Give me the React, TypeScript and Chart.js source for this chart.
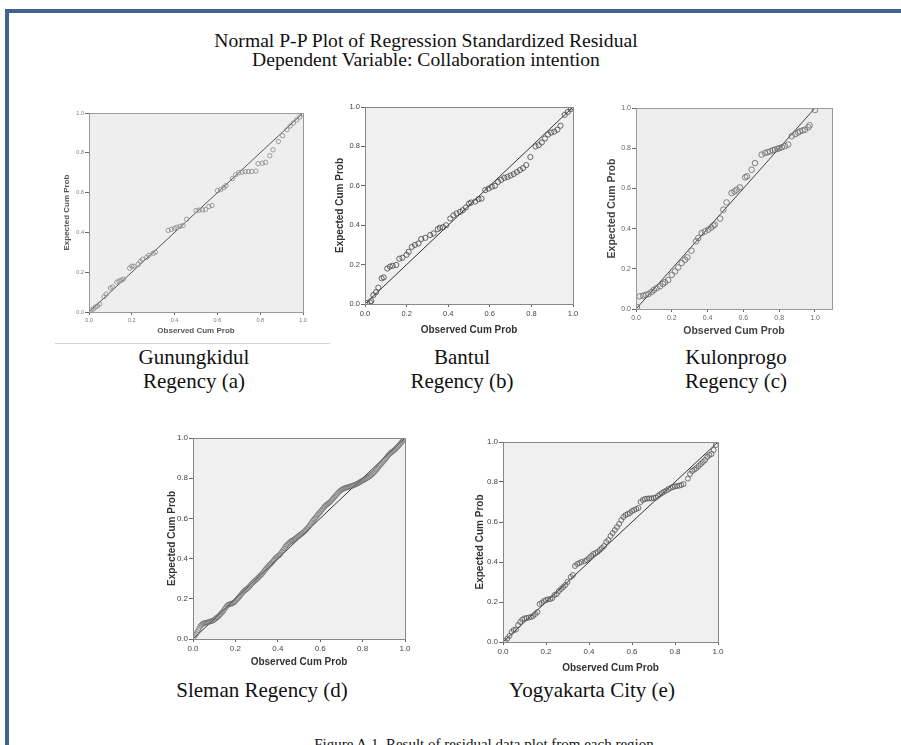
import React, { useEffect, useRef } from 'react';
import { Chart, registerables } from 'chart.js';

Chart.register(...registerables);

// ---------- shared axis data ----------
const tickValues = [0, 0.2, 0.4, 0.6, 0.8, 1.0];
const tickLabels = ['0.0', '0.2', '0.4', '0.6', '0.8', '1.0'];
const xAxisTitle = 'Observed Cum Prob';
const yAxisTitle = 'Expected Cum Prob';
const diagonalLine = [[0, 0], [1, 1]];

const titleLines = [
  'Normal P-P Plot of Regression Standardized Residual',
  'Dependent Variable: Collaboration intention',
];
const panelCaptions = [
  ['Gunungkidul', 'Regency (a)'],
  ['Bantul', 'Regency (b)'],
  ['Kulonprogo', 'Regency (c)'],
  ['Sleman Regency (d)'],
  ['Yogyakarta City (e)'],
];
const figureCaption = 'Figure A.1. Result of residual data plot from each region';

// ---------- series: [observed cum prob, expected cum prob] ----------
const gunungkidulPoints = [
  [0.01, 0.01], [0.02, 0.015], [0.03, 0.025], [0.04, 0.03], [0.05, 0.04],
  [0.07, 0.077], [0.08, 0.09], [0.1, 0.12], [0.11, 0.125], [0.13, 0.15],
  [0.14, 0.155], [0.15, 0.16], [0.16, 0.165], [0.19, 0.22], [0.2, 0.23],
  [0.21, 0.23], [0.23, 0.24], [0.24, 0.255], [0.25, 0.265], [0.27, 0.275],
  [0.28, 0.285], [0.3, 0.295], [0.31, 0.3], [0.37, 0.41], [0.385, 0.415],
  [0.4, 0.42], [0.41, 0.425], [0.425, 0.43], [0.44, 0.435], [0.456, 0.466],
  [0.5, 0.51], [0.515, 0.512], [0.53, 0.513], [0.545, 0.515], [0.56, 0.53],
  [0.575, 0.535], [0.6, 0.61], [0.615, 0.615], [0.63, 0.625], [0.64, 0.635],
  [0.67, 0.67], [0.685, 0.69], [0.7, 0.7], [0.715, 0.703], [0.73, 0.705],
  [0.745, 0.706], [0.76, 0.706], [0.78, 0.708], [0.79, 0.745], [0.81, 0.748],
  [0.825, 0.752], [0.845, 0.785], [0.86, 0.815], [0.885, 0.857], [0.905, 0.886],
  [0.925, 0.916], [0.94, 0.935], [0.955, 0.95], [0.97, 0.965], [0.985, 0.98],
  [1.0, 0.995],
];

const bantulPoints = [
  [0.01, 0.005], [0.024, 0.008], [0.03, 0.015], [0.04, 0.045], [0.053, 0.06],
  [0.064, 0.083], [0.08, 0.13], [0.09, 0.135], [0.107, 0.18], [0.12, 0.19],
  [0.133, 0.194], [0.15, 0.198], [0.165, 0.23], [0.18, 0.235], [0.2, 0.25],
  [0.21, 0.265], [0.225, 0.29], [0.24, 0.3], [0.257, 0.307], [0.27, 0.33],
  [0.29, 0.336], [0.313, 0.35], [0.33, 0.358], [0.35, 0.38], [0.36, 0.387],
  [0.375, 0.39], [0.39, 0.4], [0.41, 0.434], [0.425, 0.45], [0.44, 0.46],
  [0.457, 0.468], [0.47, 0.476], [0.485, 0.49], [0.5, 0.51], [0.51, 0.515],
  [0.53, 0.52], [0.546, 0.532], [0.56, 0.535], [0.578, 0.578], [0.594, 0.586],
  [0.61, 0.595], [0.625, 0.6], [0.64, 0.62], [0.655, 0.63], [0.67, 0.64],
  [0.685, 0.645], [0.7, 0.652], [0.715, 0.66], [0.73, 0.67], [0.745, 0.68],
  [0.76, 0.69], [0.775, 0.705], [0.795, 0.746], [0.82, 0.8], [0.835, 0.806],
  [0.85, 0.82], [0.865, 0.84], [0.88, 0.86], [0.895, 0.87], [0.91, 0.875],
  [0.925, 0.885], [0.94, 0.905], [0.96, 0.96], [0.975, 0.975], [0.99, 0.99],
  [1.0, 1.0],
];

const kulonprogoPoints = [
  [0.005, 0.01], [0.02, 0.063], [0.04, 0.066], [0.055, 0.07], [0.07, 0.075],
  [0.087, 0.085], [0.1, 0.095], [0.115, 0.104], [0.134, 0.113], [0.15, 0.125],
  [0.162, 0.133], [0.18, 0.144], [0.2, 0.17], [0.218, 0.187], [0.236, 0.207],
  [0.255, 0.229], [0.274, 0.245], [0.287, 0.257], [0.31, 0.29], [0.335, 0.337],
  [0.348, 0.353], [0.367, 0.378], [0.385, 0.386], [0.404, 0.395], [0.42, 0.405],
  [0.432, 0.415], [0.44, 0.42], [0.47, 0.45], [0.488, 0.494], [0.506, 0.53],
  [0.534, 0.577], [0.55, 0.585], [0.562, 0.594], [0.58, 0.605], [0.61, 0.655],
  [0.62, 0.66], [0.646, 0.693], [0.665, 0.726], [0.702, 0.768], [0.72, 0.776],
  [0.735, 0.78], [0.75, 0.784], [0.765, 0.79], [0.776, 0.793], [0.79, 0.797],
  [0.8, 0.8], [0.815, 0.805], [0.832, 0.81], [0.85, 0.818], [0.87, 0.86],
  [0.89, 0.87], [0.905, 0.878], [0.916, 0.884], [0.93, 0.888], [0.944, 0.892],
  [0.963, 0.904], [0.97, 0.914], [1.0, 0.99],
];

const slemanPoints = [
  [0.005, 0.01], [0.01, 0.02], [0.015, 0.025], [0.02, 0.035], [0.025, 0.045], [0.03, 0.055],
  [0.035, 0.065], [0.04, 0.07], [0.045, 0.075], [0.05, 0.078], [0.055, 0.08], [0.06, 0.08],
  [0.065, 0.082], [0.07, 0.083], [0.075, 0.085], [0.08, 0.087], [0.085, 0.088], [0.09, 0.09],
  [0.095, 0.092], [0.1, 0.095], [0.105, 0.1], [0.11, 0.105], [0.115, 0.108], [0.12, 0.112],
  [0.125, 0.118], [0.13, 0.124], [0.135, 0.13], [0.14, 0.135], [0.145, 0.142], [0.15, 0.15],
  [0.155, 0.158], [0.16, 0.165], [0.165, 0.17], [0.17, 0.172], [0.175, 0.174], [0.18, 0.175],
  [0.185, 0.177], [0.19, 0.18], [0.195, 0.183], [0.2, 0.188], [0.205, 0.195], [0.21, 0.2],
  [0.215, 0.206], [0.22, 0.212], [0.225, 0.218], [0.23, 0.225], [0.235, 0.232], [0.24, 0.238],
  [0.245, 0.242], [0.25, 0.246], [0.255, 0.25], [0.26, 0.254], [0.265, 0.26], [0.27, 0.266],
  [0.275, 0.272], [0.28, 0.278], [0.285, 0.283], [0.29, 0.288], [0.295, 0.292], [0.3, 0.297],
  [0.305, 0.302], [0.31, 0.308], [0.315, 0.313], [0.32, 0.318], [0.325, 0.323], [0.33, 0.33],
  [0.335, 0.337], [0.34, 0.344], [0.345, 0.35], [0.35, 0.356], [0.355, 0.362], [0.36, 0.368],
  [0.365, 0.373], [0.37, 0.378], [0.375, 0.384], [0.38, 0.39], [0.385, 0.397], [0.39, 0.403],
  [0.395, 0.408], [0.4, 0.412], [0.405, 0.416], [0.41, 0.42], [0.415, 0.428], [0.42, 0.435],
  [0.425, 0.442], [0.43, 0.45], [0.435, 0.458], [0.44, 0.465], [0.445, 0.47], [0.45, 0.475],
  [0.455, 0.48], [0.46, 0.485], [0.465, 0.488], [0.47, 0.49], [0.475, 0.494], [0.48, 0.498],
  [0.485, 0.502], [0.49, 0.506], [0.495, 0.51], [0.5, 0.514], [0.505, 0.518], [0.51, 0.522],
  [0.515, 0.526], [0.52, 0.53], [0.525, 0.535], [0.53, 0.54], [0.535, 0.546], [0.54, 0.552],
  [0.545, 0.558], [0.55, 0.565], [0.555, 0.572], [0.56, 0.58], [0.565, 0.588], [0.57, 0.595],
  [0.575, 0.6], [0.58, 0.606], [0.585, 0.613], [0.59, 0.62], [0.595, 0.626], [0.6, 0.632],
  [0.605, 0.638], [0.61, 0.645], [0.615, 0.652], [0.62, 0.658], [0.625, 0.664], [0.63, 0.668],
  [0.635, 0.672], [0.64, 0.676], [0.645, 0.68], [0.65, 0.686], [0.655, 0.692], [0.66, 0.698],
  [0.665, 0.704], [0.67, 0.71], [0.675, 0.716], [0.68, 0.722], [0.685, 0.728], [0.69, 0.733],
  [0.695, 0.738], [0.7, 0.742], [0.705, 0.745], [0.71, 0.748], [0.715, 0.75], [0.72, 0.752],
  [0.725, 0.754], [0.73, 0.755], [0.735, 0.757], [0.74, 0.758], [0.745, 0.76], [0.75, 0.762],
  [0.755, 0.764], [0.76, 0.766], [0.765, 0.768], [0.77, 0.77], [0.775, 0.773], [0.78, 0.776],
  [0.785, 0.779], [0.79, 0.782], [0.795, 0.785], [0.8, 0.788], [0.805, 0.791], [0.81, 0.794],
  [0.815, 0.797], [0.82, 0.8], [0.825, 0.803], [0.83, 0.807], [0.835, 0.811], [0.84, 0.815],
  [0.845, 0.82], [0.85, 0.825], [0.855, 0.83], [0.86, 0.836], [0.865, 0.842], [0.87, 0.848],
  [0.875, 0.855], [0.88, 0.862], [0.885, 0.868], [0.89, 0.874], [0.895, 0.88], [0.9, 0.886],
  [0.905, 0.892], [0.91, 0.898], [0.915, 0.905], [0.92, 0.912], [0.925, 0.918], [0.93, 0.924],
  [0.935, 0.928], [0.94, 0.932], [0.945, 0.936], [0.95, 0.94], [0.955, 0.945], [0.96, 0.95],
  [0.965, 0.956], [0.97, 0.962], [0.975, 0.968], [0.98, 0.974], [0.985, 0.98], [0.99, 0.986],
  [0.995, 0.992], [1.0, 0.998],
];

const yogyakartaPoints = [
  [0.008, 0.005], [0.02, 0.017], [0.03, 0.03], [0.04, 0.05], [0.05, 0.06],
  [0.06, 0.062], [0.07, 0.085], [0.08, 0.1], [0.09, 0.112], [0.1, 0.118],
  [0.11, 0.12], [0.12, 0.122], [0.13, 0.125], [0.14, 0.13], [0.15, 0.14],
  [0.16, 0.15], [0.17, 0.19], [0.18, 0.195], [0.19, 0.205], [0.2, 0.21],
  [0.21, 0.213], [0.22, 0.215], [0.23, 0.22], [0.24, 0.235], [0.25, 0.24],
  [0.26, 0.255], [0.27, 0.265], [0.28, 0.275], [0.29, 0.285], [0.3, 0.3],
  [0.315, 0.325], [0.325, 0.335], [0.335, 0.38], [0.345, 0.39], [0.355, 0.395],
  [0.365, 0.4], [0.38, 0.405], [0.39, 0.41], [0.4, 0.42], [0.41, 0.43],
  [0.42, 0.44], [0.43, 0.445], [0.44, 0.45], [0.45, 0.46], [0.46, 0.47],
  [0.47, 0.48], [0.48, 0.5], [0.49, 0.51], [0.5, 0.53], [0.51, 0.545],
  [0.52, 0.56], [0.53, 0.575], [0.54, 0.59], [0.55, 0.61], [0.56, 0.625],
  [0.57, 0.635], [0.58, 0.64], [0.59, 0.645], [0.6, 0.655], [0.61, 0.66],
  [0.62, 0.665], [0.63, 0.67], [0.64, 0.7], [0.65, 0.71], [0.66, 0.715],
  [0.67, 0.717], [0.68, 0.718], [0.69, 0.718], [0.7, 0.72], [0.71, 0.722],
  [0.72, 0.73], [0.73, 0.738], [0.74, 0.745], [0.75, 0.752], [0.76, 0.758],
  [0.77, 0.765], [0.78, 0.77], [0.79, 0.775], [0.8, 0.778], [0.81, 0.78],
  [0.82, 0.782], [0.83, 0.785], [0.84, 0.79], [0.86, 0.817], [0.87, 0.84],
  [0.88, 0.855], [0.89, 0.862], [0.9, 0.87], [0.91, 0.88], [0.92, 0.89],
  [0.93, 0.9], [0.94, 0.91], [0.95, 0.925], [0.96, 0.935], [0.97, 0.94],
  [0.98, 0.96], [0.99, 0.985],
];

// ---------- panel layout / style ----------
type PanelSpec = {
  points: number[][];
  box: [number, number, number, number]; // left, top, right, bottom (page px)
  xMax: number;
  lw: number; pt: number; pr: number; xh: number;
  yTitleOff: number; xTitleOff: number;
  tickSize: number; tickColor: string;
  titleSize: number; titleColor: string;
  pointR: number; pointColor: string; pointWidth: number; lineColor: string;
  boxColor: string; bg: string;
};

const panels: PanelSpec[] = [
  { points: gunungkidulPoints, box: [89, 113, 303, 312], xMax: 1, lw: 30, pt: 8, pr: 12, xh: 26,
    yTitleOff: 8, xTitleOff: 7, tickSize: 5.5, tickColor: '#777', titleSize: 8, titleColor: '#555',
    pointR: 2.2, pointColor: '#888', pointWidth: 0.8, lineColor: '#555', boxColor: '#999', bg: '#eeeeee' },
  { points: bantulPoints, box: [365, 107, 573, 304], xMax: 1, lw: 36, pt: 8, pr: 12, xh: 34,
    yTitleOff: 11, xTitleOff: 8, tickSize: 7.5, tickColor: '#444', titleSize: 10, titleColor: '#333',
    pointR: 2.6, pointColor: '#444', pointWidth: 0.8, lineColor: '#333', boxColor: '#888', bg: '#f0f0f0' },
  { points: kulonprogoPoints, box: [636, 108, 832, 309], xMax: 1.095, lw: 32, pt: 8, pr: 10, xh: 30,
    yTitleOff: 8, xTitleOff: 8, tickSize: 7, tickColor: '#666', titleSize: 10.5, titleColor: '#444',
    pointR: 2.8, pointColor: '#666', pointWidth: 0.8, lineColor: '#444', boxColor: '#999', bg: '#ededed' },
  { points: slemanPoints, box: [193, 438, 405, 639], xMax: 1, lw: 30, pt: 8, pr: 10, xh: 32,
    yTitleOff: 9, xTitleOff: 9, tickSize: 8, tickColor: '#444', titleSize: 10, titleColor: '#333',
    pointR: 2.4, pointColor: '#6a6a6a', pointWidth: 0.6, lineColor: '#333', boxColor: '#888', bg: '#f0f0f0' },
  { points: yogyakartaPoints, box: [503, 442, 718, 642], xMax: 1, lw: 34, pt: 8, pr: 10, xh: 34,
    yTitleOff: 11, xTitleOff: 8, tickSize: 8, tickColor: '#444', titleSize: 10, titleColor: '#333',
    pointR: 2.5, pointColor: '#555', pointWidth: 0.8, lineColor: '#333', boxColor: '#888', bg: '#f0f0f0' },
];

const SANS = '"Liberation Sans", Arial, sans-serif';
const SERIF = '"Liberation Serif", "Times New Roman", serif';

function PPPanel({ spec }: { spec: PanelSpec }) {
  const ref = useRef<HTMLCanvasElement | null>(null);
  const [l, t, r, b] = spec.box;
  const w = r - l + spec.lw + spec.pr;
  const h = b - t + spec.pt + spec.xh;

  useEffect(() => {
    const canvas = ref.current;
    if (!canvas) return;
    const framePlugin = {
      id: 'frame',
      beforeDraw(chart: any) {
        const a = chart.chartArea;
        const ctx = chart.ctx;
        ctx.save();
        ctx.fillStyle = spec.bg;
        ctx.fillRect(a.left, a.top, a.right - a.left, a.bottom - a.top);
        ctx.restore();
      },
      afterDraw(chart: any) {
        const a = chart.chartArea;
        const ctx = chart.ctx;
        ctx.save();
        ctx.strokeStyle = spec.boxColor;
        ctx.lineWidth = 1;
        ctx.strokeRect(Math.round(a.left) + 0.5, Math.round(a.top) + 0.5,
          Math.round(a.right - a.left), Math.round(a.bottom - a.top));
        ctx.restore();
      },
    };
    const tickFont = { family: SANS, size: spec.tickSize };
    const titleFont = { family: SANS, size: spec.titleSize, weight: 'bold' as const };
    const setTicks = (scale: any) => {
      scale.ticks = tickValues.map((v) => ({ value: v }));
    };
    const chart = new Chart(canvas, {
      type: 'scatter',
      data: {
        datasets: [
          {
            type: 'line',
            data: diagonalLine.map(([x, y]) => ({ x, y })),
            borderColor: spec.lineColor,
            borderWidth: 1,
            pointRadius: 0,
            fill: false,
            order: 2,
          } as any,
          {
            data: spec.points.map(([x, y]) => ({ x, y })),
            pointStyle: 'circle',
            pointRadius: spec.pointR,
            borderColor: spec.pointColor,
            borderWidth: spec.pointWidth,
            backgroundColor: 'rgba(0,0,0,0)',
            order: 1,
          },
        ],
      },
      options: {
        animation: false,
        responsive: false,
        maintainAspectRatio: false,
        devicePixelRatio: 1,
        events: [],
        layout: { padding: { top: spec.pt, right: spec.pr, left: 0, bottom: 0 } },
        plugins: { legend: { display: false }, tooltip: { enabled: false }, title: { display: false } },
        scales: {
          x: {
            type: 'linear',
            min: 0,
            max: spec.xMax,
            afterBuildTicks: setTicks,
            afterFit: (s: any) => { s.height = spec.xh; },
            ticks: {
              callback: (_v: any, i: number) => tickLabels[i],
              font: tickFont,
              color: spec.tickColor,
              padding: 2,
              maxRotation: 0,
              autoSkip: false,
            },
            grid: { drawOnChartArea: false, drawTicks: true, tickLength: 3, color: '#666' },
            border: { display: false },
            title: {
              display: true,
              text: xAxisTitle,
              font: titleFont,
              color: spec.titleColor,
              padding: { top: 0, bottom: spec.xTitleOff - spec.titleSize * 0.6 },
            },
          },
          y: {
            type: 'linear',
            min: 0,
            max: 1,
            afterBuildTicks: setTicks,
            afterFit: (s: any) => { s.width = spec.lw; },
            ticks: {
              callback: (_v: any, i: number) => tickLabels[i],
              font: tickFont,
              color: spec.tickColor,
              padding: 1,
              autoSkip: false,
            },
            grid: { drawOnChartArea: false, drawTicks: true, tickLength: 4, color: '#666' },
            border: { display: false },
            title: {
              display: true,
              text: yAxisTitle,
              font: titleFont,
              color: spec.titleColor,
              padding: { top: spec.yTitleOff - spec.titleSize * 0.6, bottom: 0 },
            },
          },
        },
      },
      plugins: [framePlugin],
    } as any);
    return () => chart.destroy();
  }, [spec]);

  return (
    <canvas
      ref={ref}
      width={w}
      height={h}
      style={{ position: 'absolute', left: l - spec.lw, top: t - spec.pt, width: w, height: h }}
    />
  );
}

const captionCenters: [number, number][] = [[194, 357], [462, 357], [736, 357], [262, 690], [592, 690]];

export default function App() {
  return (
    <div style={{ position: 'absolute', left: 0, top: 0, width: 901, height: 745, overflow: 'hidden', background: '#fff' }}>
      <div style={{ position: 'absolute', left: 5, top: 9, width: 920, height: 760,
        borderTop: '4px solid #3d6491', borderLeft: '4px solid #3d6491' }} />
      <div style={{ position: 'absolute', left: 126, top: 32, width: 600, textAlign: 'center',
        fontFamily: SERIF, fontSize: 18, lineHeight: '19px', color: '#111', transform: 'scaleX(1.09)' }}>
        {titleLines.map((s) => <div key={s}>{s}</div>)}
      </div>
      <div style={{ position: 'absolute', left: 55, top: 343, width: 275, height: 1, background: '#d4d4d4' }} />
      {panels.map((p, i) => <PPPanel key={i} spec={p} />)}
      {panelCaptions.map((lines, i) => (
        <div key={i} style={{ position: 'absolute', left: captionCenters[i][0] - 150, top: captionCenters[i][1] - 12,
          width: 300, textAlign: 'center', fontFamily: SERIF, fontSize: 21, lineHeight: '24px', color: '#111' }}>
          {lines.map((s) => <div key={s}>{s}</div>)}
        </div>
      ))}
      <div style={{ position: 'absolute', left: 184, top: 735, width: 600, textAlign: 'center',
        fontFamily: SERIF, fontSize: 15, lineHeight: '18px', color: '#111' }}>
        {figureCaption}
      </div>
    </div>
  );
}
